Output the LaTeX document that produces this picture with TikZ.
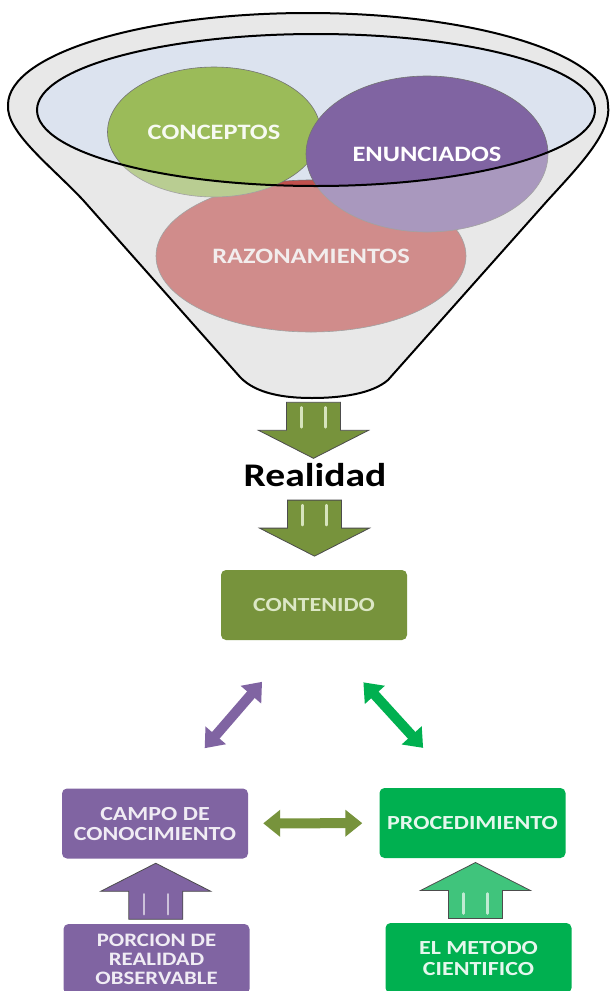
\documentclass[tikz,border=0pt]{standalone}
\usepackage{fontspec}
\newfontfamily\calib[FakeStretch=1.2]{Carlito}
\newcommand\labfont[2]{\calib\bfseries\fontsize{#1}{#2}\selectfont}
\usetikzlibrary{shapes.geometric,arrows.meta,calc}
\definecolor{cOlive}{HTML}{77933C}
\definecolor{cLeaf}{HTML}{9BBB59}
\definecolor{cPurp}{HTML}{8064A2}
\definecolor{cRose}{HTML}{C0504D}
\definecolor{cGreen}{HTML}{00B050}
\definecolor{cRim}{HTML}{DCE3EF}
\definecolor{cFunnel}{HTML}{E8E8E8}
\tikzset{
x=1pt, y=-1pt,
bubble/.style={ellipse, draw=black!55, line width=0.6pt, inner sep=0pt, font=\labfont{22}{22}},
box/.style={rectangle, rounded corners=5pt, minimum width=186pt, minimum height=70pt,
  align=center, inner sep=2pt, font=\labfont{20}{20}},
duo/.style={line width=10pt, {Triangle[width=26pt,length=17pt]}-{Triangle[width=26pt,length=17pt]}},
pics/fatarrow/.style 2 args={code={
  \filldraw[draw=black!70, line width=0.8pt, fill=#1] (-27,-28) -- (27,-28) -- (27,0) -- (55,0)
    -- (0,28) -- (-55,0) -- (-27,0) -- cycle;
  \draw[#2, line width=2.5pt, line cap=round] (-12,-23) -- (-12,-3) (12,-23) -- (12,-3);
}},
}
\newcommand\funnelshape{(8,105) .. controls (6,132) and (50,165) .. (83,200) -- (240,377)
  .. controls (256,394) and (285,398) .. (312,398) .. controls (340,398) and (372,394) .. (388,380)
  -- (548,200) .. controls (580,165) and (612,132) .. (608,105)
  arc[start angle=0, end angle=-180, x radius=300, y radius=92] -- cycle}

\begin{document}
\begin{tikzpicture}
    \fill[white] (0,0) rectangle (613,991);
    \useasboundingbox (0,0) rectangle (613,991);

    % funnel
    \fill[cFunnel] \funnelshape;
    \fill[cRim] (316,110) ellipse[x radius=279, y radius=76];
    \node[bubble, fill=cRose, minimum width=310pt, minimum height=152pt, text=cRose!8!white] (razo) at (311,256) {RAZONAMIENTOS};
    \node[bubble, fill=cLeaf, minimum width=213pt, minimum height=130pt, text=cLeaf!8!white] (conc) at (214,132) {CONCEPTOS};
    \node[bubble, fill=cPurp, minimum width=242pt, minimum height=156pt, text=white] (enun) at (427,154) {ENUNCIADOS};
    \fill[cFunnel, opacity=.4, even odd rule] \funnelshape (316,110) ellipse[x radius=279, y radius=76];
    \draw[line width=2pt] \funnelshape;
    \draw[line width=2pt] (316,110) ellipse[x radius=279, y radius=76];
    \coordinate (neck) at (312,398);

    \node[font=\labfont{33}{33}, inner sep=0pt, anchor=base] (real) at (315,486) {Realidad};

    \node[box, fill=cOlive, text=cLeaf!35!white, font=\labfont{20}{20}] (cont) at (314,605) {CONTENIDO};
    \node[box, fill=cPurp, text=cPurp!12!white] (camp) at (155,823.5) {CAMPO DE\\CONOCIMIENTO};
    \node[box, fill=cGreen, text=cGreen!10!white] (proc) at (472.5,823) {PROCEDIMIENTO};
    \node[box, fill=cPurp, text=cPurp!12!white, font=\labfont{19}{19}] (porc) at (156.5,959) {PORCION DE\\REALIDAD\\OBSERVABLE};
    \node[box, fill=cGreen, text=cGreen!10!white, font=\labfont{20}{21}] (meto) at (478.5,958) {EL METODO\\CIENTIFICO};

    \pic at ($(neck)!.5!(real.north)$) {fatarrow={cOlive}{cLeaf!40!white}};
    \pic at ($(real.south)!.5!(cont.north)$) {fatarrow={cOlive}{cLeaf!40!white}};
    \pic[rotate=180] at ($(porc.north)!.5!(camp.south)$) {fatarrow={cPurp}{cPurp!40!white}};
    \pic[rotate=180] at ($(meto.north)!.5!(proc.south)$) {fatarrow={cGreen!75!white}{cGreen!25!white}};

    \draw[duo, cPurp, shorten <=55pt, shorten >=53pt] ($(cont.south)+(-16,0)$) -- ($(camp.north)+(15,0)$);
    \draw[duo, cGreen, shorten <=57pt, shorten >=54pt] ($(cont.south)+(11,0)$) -- ($(proc.north)+(-13,0)$);
    \draw[duo, cOlive, shorten <=15pt, shorten >=17pt] (camp) -- (proc);
\end{tikzpicture}
\end{document}
